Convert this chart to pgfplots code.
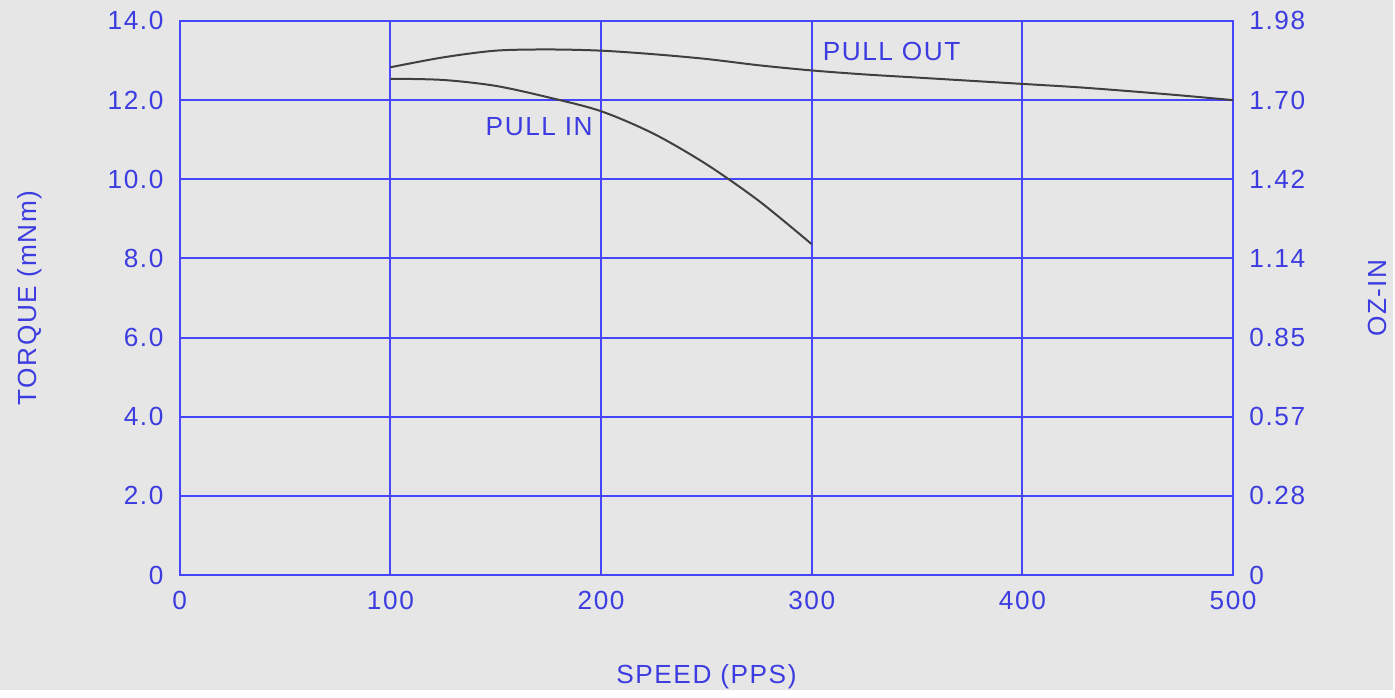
\documentclass[border=0pt]{standalone}
\usepackage{fontspec}
\usepackage{pgfplots}
\pgfplotsset{compat=1.18}
\newfontfamily\plotfont[LetterSpace=6]{Liberation Sans}
\definecolor{bg}{HTML}{E6E6E6}
\definecolor{gridblue}{HTML}{4646FF}
\definecolor{txtblue}{HTML}{3C3CE0}
\definecolor{curve}{HTML}{404040}

\begin{document}
\begin{tikzpicture}
% 1 px of the reference = 0.4pt
\fill[bg] (0,0) rectangle (558pt,276.4pt);
\pgfplotsset{
  common/.style={
    scale only axis, width=422pt, height=222pt,
    at={(72pt,46pt)}, anchor=south west,
    xmin=0, xmax=500, ymin=0, ymax=14,
    major tick length=0pt, clip=false,
    tick label style={font=\plotfont\fontsize{10.5}{11}\selectfont, text=txtblue},
    /pgf/number format/assume math mode=true,
  }
}
\begin{axis}[common,
  axis line style={gridblue, line width=0.8pt},
  grid=major, grid style={gridblue, line width=0.8pt},
  xtick={0,100,...,500}, ytick={0,2,...,14},
  yticklabels={0,2.0,4.0,6.0,8.0,10.0,12.0,14.0},
  xticklabels={0,100,200,300,400,500},
  yticklabel style={xshift=-3pt},
  xticklabel style={yshift=-3pt},
]
% pull out
\addplot[curve, line width=0.8pt, smooth] coordinates {
  (100,12.83)(125,13.08)(150,13.25)(175,13.28)(200,13.25)(225,13.16)(250,13.04)
  (275,12.88)(300,12.75)(325,12.65)(350,12.57)(375,12.49)(400,12.41)(425,12.33)
  (450,12.23)(475,12.12)(500,12.00)};
% pull in
\addplot[curve, line width=0.8pt, smooth] coordinates {
  (100,12.54)(125,12.51)(150,12.36)(175,12.07)(200,11.72)(225,11.15)(250,10.38)
  (275,9.45)(300,8.36)};
\node[anchor=west, inner sep=0pt, text=txtblue, font=\plotfont\fontsize{10.5}{11}\selectfont] at (axis cs:305,13.22) {PULL OUT};
\node[anchor=west, inner sep=0pt, text=txtblue, font=\plotfont\fontsize{10.5}{11}\selectfont] at (axis cs:145,11.33) {PULL IN};
\node[rotate=90, text=txtblue, font=\plotfont\fontsize{10.5}{11}\selectfont] at (axis description cs:-0.142,0.5) {TORQUE (mNm)};
\node[rotate=90, text=txtblue, font=\plotfont\fontsize{10.5}{11}\selectfont] at (axis description cs:1.137,0.5) {OZ-IN};
\node[text=txtblue, font=\plotfont\fontsize{10.5}{11}\selectfont] at (axis description cs:0.5,-0.184) {SPEED (PPS)};
\end{axis}
\begin{axis}[common,
  axis x line=none, axis y line*=right,
  axis line style={draw=none},
  ytick={0,2,...,14},
  yticklabels={0,0.28,0.57,0.85,1.14,1.42,1.70,1.98},
  yticklabel style={xshift=3pt},
]
\addplot[draw=none] coordinates {(0,0)(500,14)};
\end{axis}
\end{tikzpicture}
\end{document}
